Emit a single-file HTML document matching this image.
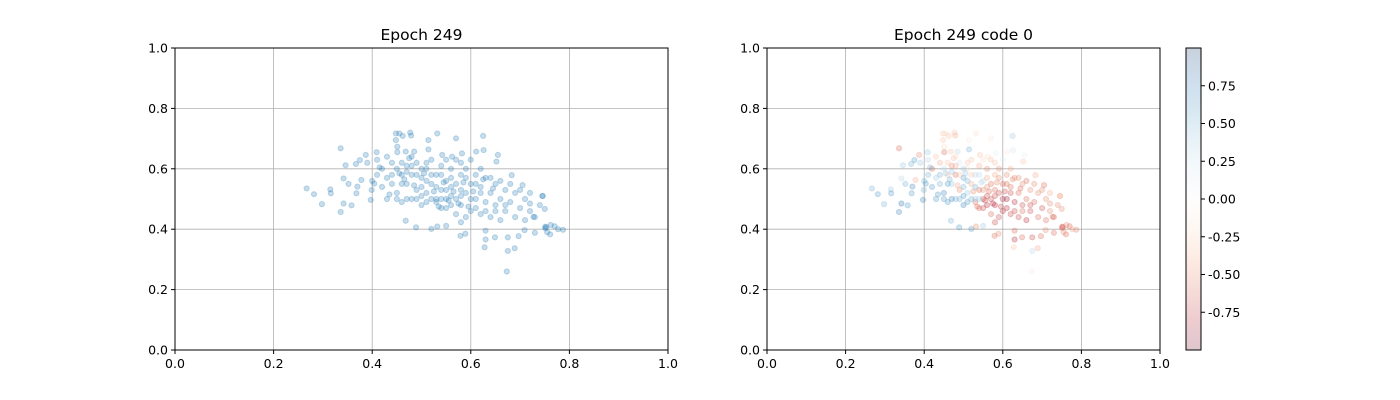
<!DOCTYPE html>
<html><head><meta charset="utf-8"><style>
body{margin:0;background:#fff;}
svg{display:block;font-family:"DejaVu Sans","Liberation Sans",sans-serif;}
</style></head><body>
<svg id="fig" width="1400" height="400"></svg>
<script>
const xTicks=[0,0.2,0.4,0.6,0.8,1.0];
const yTicks=[0,0.2,0.4,0.6,0.8,1.0];
const cbTicks=[0.75,0.5,0.25,0,-0.25,-0.5,-0.75];
// [x, y, code]
const pts=[
[0.267,0.535,0.5],[0.282,0.516,0.6],[0.298,0.483,0.5],[0.315,0.532,0.4],[0.316,0.519,0.6],[0.336,0.668,-0.6],
[0.336,0.457,0.7],[0.342,0.485,0.8],[0.358,0.479,0.6],[0.342,0.568,0.3],[0.352,0.55,0.5],[0.346,0.612,0.4],
[0.367,0.616,0.5],[0.375,0.629,0.6],[0.387,0.646,-0.5],[0.409,0.655,0.4],[0.368,0.519,0.6],[0.37,0.541,0.7],
[0.378,0.563,-0.4],[0.397,0.497,0.7],[0.399,0.53,0.5],[0.404,0.551,0.6],
[0.448,0.717,-0.3],[0.455,0.717,-0.2],[0.462,0.709,-0.3],[0.477,0.72,-0.3],[0.479,0.71,-0.4],[0.532,0.717,-0.2],
[0.57,0.701,-0.1],[0.625,0.709,0.4],[0.448,0.695,-0.3],[0.451,0.673,-0.2],[0.451,0.655,-0.6],[0.468,0.657,-0.3],
[0.485,0.657,0.3],[0.514,0.695,-0.1],[0.514,0.664,0.5],[0.542,0.646,-0.3],[0.562,0.64,-0.2],[0.582,0.651,0.1],
[0.611,0.657,-0.1],[0.626,0.662,0.2],[0.655,0.646,0.1],[0.652,0.624,-0.3],
[0.468,0.428,0.5],[0.489,0.406,0.6],[0.52,0.401,0.6],[0.532,0.409,-0.5],[0.55,0.411,0.4],[0.58,0.423,-0.7],
[0.579,0.378,-0.6],[0.589,0.385,-0.5],[0.63,0.395,-0.6],[0.63,0.366,-0.8],[0.628,0.34,-0.3],[0.649,0.373,-0.6],
[0.675,0.373,-0.7],[0.675,0.328,0.3],[0.689,0.337,-0.4],[0.673,0.26,-0.1],[0.697,0.377,-0.6],[0.709,0.397,-0.5],
[0.73,0.388,-0.6],[0.751,0.403,-0.5],
[0.683,0.579,-0.4],[0.705,0.546,-0.6],[0.72,0.485,-0.5],[0.727,0.441,-0.6],[0.746,0.51,-0.4],[0.751,0.408,-0.7],
[0.745,0.51,-0.4],[0.75,0.467,-0.5],[0.762,0.414,-0.5],[0.77,0.41,-0.6],[0.777,0.4,-0.4],[0.787,0.398,-0.5],
[0.761,0.383,-0.6],[0.755,0.39,-0.5],[0.753,0.407,-0.6],
[0.41,0.58,0.5],[0.42,0.6,-0.6],[0.43,0.57,0.4],[0.43,0.5,0.6],[0.44,0.55,0.5],[0.44,0.62,-0.4],[0.45,0.6,0.3],
[0.45,0.52,0.7],[0.46,0.58,-0.3],[0.46,0.49,0.6],[0.47,0.61,-0.5],[0.47,0.55,0.4],[0.48,0.5,0.5],[0.48,0.58,-0.6],
[0.49,0.62,0.2],[0.49,0.53,-0.5],[0.5,0.57,0.6],[0.5,0.48,0.7],[0.51,0.6,-0.2],[0.51,0.52,0.4],[0.52,0.55,-0.4],
[0.52,0.63,-0.3],[0.53,0.58,0.3],[0.53,0.49,-0.6],[0.54,0.61,-0.4],[0.54,0.53,-0.6],[0.55,0.56,0.3],[0.55,0.47,-0.7],
[0.56,0.6,-0.5],[0.56,0.51,-0.7],[0.57,0.55,-0.6],[0.57,0.63,-0.3],[0.58,0.48,-0.8],[0.58,0.58,-0.4],[0.59,0.52,-0.7],
[0.59,0.6,-0.5],[0.6,0.55,-0.6],[0.6,0.46,-0.8],[0.61,0.58,-0.5],[0.61,0.5,-0.9],[0.62,0.54,-0.6],[0.62,0.45,-0.7],
[0.63,0.57,-0.5],[0.63,0.49,-0.8],[0.64,0.52,-0.6],[0.64,0.44,-0.7],[0.65,0.55,-0.5],[0.65,0.48,-0.7],[0.66,0.5,-0.6],
[0.66,0.43,-0.8],[0.67,0.53,-0.5],[0.67,0.46,-0.7],[0.68,0.49,-0.6],[0.69,0.52,-0.5],[0.69,0.44,-0.6],[0.7,0.47,-0.7],
[0.71,0.5,-0.5],[0.71,0.43,-0.6],[0.72,0.46,-0.5],[0.73,0.44,-0.6],
[0.53,0.5,0.4],[0.54,0.47,-0.6],[0.55,0.5,-0.7],[0.56,0.48,-0.8],[0.55,0.53,-0.5],[0.57,0.5,-0.7],[0.58,0.53,-0.6],
[0.52,0.5,0.5],[0.5,0.54,0.5],[0.49,0.58,-0.3],[0.47,0.59,0.4],[0.46,0.55,0.6],[0.44,0.58,0.5],[0.42,0.54,0.6],
[0.4,0.56,0.5],[0.39,0.62,0.4],[0.41,0.63,0.3],[0.43,0.64,-0.3],[0.48,0.64,-0.2],[0.51,0.62,-0.3],[0.55,0.63,-0.2],
[0.58,0.62,-0.3],[0.6,0.63,0.1],[0.62,0.6,-0.4],[0.64,0.57,-0.5],[0.66,0.56,-0.6],[0.68,0.55,-0.5],[0.7,0.53,-0.5],
[0.72,0.52,-0.4],[0.74,0.48,-0.5],[0.45,0.5,0.6],[0.47,0.5,0.7],[0.49,0.5,0.5],[0.51,0.49,0.6],[0.57,0.45,-0.6],
[0.59,0.44,-0.7],[0.61,0.47,-0.8],[0.63,0.46,-0.7],[0.65,0.46,-0.6],[0.67,0.48,-0.7],[0.6,0.5,-0.8],[0.62,0.52,-0.7],
[0.56,0.57,-0.4],[0.54,0.58,0.3],[0.52,0.58,-0.3],[0.5,0.6,0.4],[0.48,0.61,-0.4],[0.46,0.62,-0.3],[0.59,0.57,-0.5],
[0.61,0.55,-0.6],[0.53,0.54,0.5],[0.51,0.56,0.5],[0.56,0.54,-0.5],[0.58,0.51,-0.7],[0.54,0.5,0.4],[0.5,0.51,0.6],
[0.465,0.565,0.5],[0.485,0.545,-0.4],[0.505,0.585,0.4],[0.525,0.525,-0.5],[0.545,0.555,0.3],[0.565,0.525,-0.6],
[0.585,0.555,-0.5],[0.605,0.525,-0.7],[0.625,0.565,-0.5],[0.645,0.535,-0.6],[0.535,0.475,-0.6],[0.555,0.495,-0.7],
[0.575,0.485,-0.8],[0.595,0.475,-0.7],[0.455,0.585,0.4],[0.435,0.515,0.6],[0.415,0.605,0.5],[0.475,0.635,-0.3]
];
const NS='http://www.w3.org/2000/svg';
const svg=document.getElementById('fig');
const rdbu=[[103,0,31],[178,24,43],[214,96,77],[244,165,130],[253,219,199],[247,247,247],[209,229,240],[146,197,222],[67,147,195],[33,102,172],[5,48,97]];
function cmap(v){let t=(Math.max(-1,Math.min(1,v))+1)/2*10;let i=Math.min(9,Math.floor(t));let f=t-i;let a=rdbu[i],b=rdbu[i+1];
return 'rgb('+a.map((c,k)=>Math.round(c+(b[k]-c)*f)).join(',')+')';}
function el(tag,attrs,parent){const e=document.createElementNS(NS,tag);for(const k in attrs)e.setAttribute(k,attrs[k]);(parent||svg).appendChild(e);return e;}
function axes(x0,x1,y0,y1,title,colored,name){
  const g=el('g',{});
  
  
  const sx=v=>x0+v*(x1-x0), sy=v=>y1-v*(y1-y0);
  xTicks.forEach(t=>{const l=el('line',{x1:sx(t),x2:sx(t),y1:y0,y2:y1,stroke:'#b0b0b0','stroke-width':0.8},g);
    });
  yTicks.forEach(t=>{const l=el('line',{x1:x0,x2:x1,y1:sy(t),y2:sy(t),stroke:'#b0b0b0','stroke-width':0.8},g);
    });
  pts.forEach(p=>{const c=colored?cmap(p[2]):'#1f77b4';
    const m=el('circle',{cx:sx(p[0]),cy:sy(p[1]),r:2.6,fill:c,'fill-opacity':0.25,stroke:c,'stroke-opacity':0.25,'stroke-width':1},g);
    });
  const fr=el('rect',{x:x0,y:y0,width:x1-x0,height:y1-y0,fill:'none',stroke:'#000','stroke-width':1},g);
  
  xTicks.forEach(t=>{el('line',{x1:sx(t),x2:sx(t),y1:y1,y2:y1+4,stroke:'#000'},g);
    const tx=el('text',{x:sx(t),y:y1+18,'text-anchor':'middle','font-size':12.5},g);tx.textContent=t.toFixed(1);
    });
  yTicks.forEach(t=>{el('line',{x1:x0-4,x2:x0,y1:sy(t),y2:sy(t),stroke:'#000'},g);
    const tx=el('text',{x:x0-7,y:sy(t)+4.5,'text-anchor':'end','font-size':12.5},g);tx.textContent=t.toFixed(1);
    });
  const tt=el('text',{x:(x0+x1)/2,y:y0-8,'text-anchor':'middle','font-size':15.5},g);tt.textContent=title;
  
}
axes(175,668,48,350,'Epoch 249',false,'left-scatter-axes');
axes(767,1160,48,350,'Epoch 249 code 0',true,'right-scatter-axes');
// colorbar
const cb=el('g',{});


const cbx=1186,cbw=15,cby0=48,cby1=350;
const cy=v=>cby0+(1-v)/2*(cby1-cby0);
const defs=el('defs',{});
const grad=el('linearGradient',{id:'cbg',x1:0,y1:0,x2:0,y2:1},defs);
for(let i=0;i<=20;i++){const v=1-i/10;el('stop',{offset:(i/20),'stop-color':cmap(v),'stop-opacity':0.22},grad);}
el('rect',{x:cbx,y:cby0,width:cbw,height:cby1-cby0,fill:'url(#cbg)'},cb);
el('rect',{x:cbx,y:cby0,width:cbw,height:cby1-cby0,fill:'none',stroke:'#000','stroke-width':1},cb);
cbTicks.forEach(t=>{el('line',{x1:cbx+cbw,x2:cbx+cbw+4,y1:cy(t),y2:cy(t),stroke:'#000'},cb);
  const tx=el('text',{x:cbx+cbw+7,y:cy(t)+4.5,'font-size':12.5},cb);tx.textContent=t.toFixed(2);
  });
</script>
</body></html>
